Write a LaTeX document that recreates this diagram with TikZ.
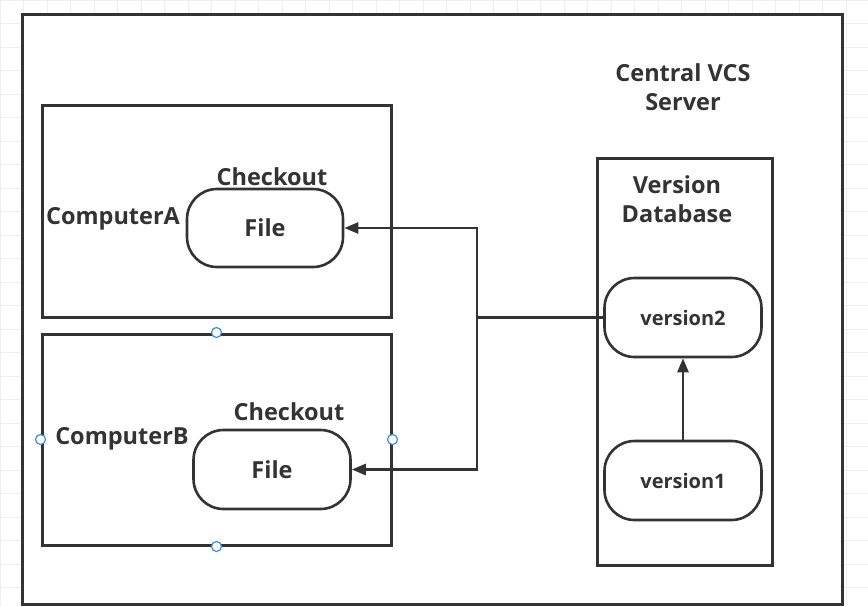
\documentclass[tikz,border=0pt]{standalone}
\usepackage{fontspec}
\setmainfont{Open Sans}
\usetikzlibrary{arrows.meta}
\definecolor{ink}{HTML}{333333}
\definecolor{gridline}{HTML}{EFEFEF}
\definecolor{handle}{HTML}{3A8EE6}
\begin{document}
\begin{tikzpicture}[
  x=1pt, y=-1pt,
  every node/.style={text=ink, font=\bfseries\fontsize{23.5}{28.5}\selectfont},
  box/.style={draw=ink, line width=3pt, inner sep=0pt, fill=white},
  pill/.style={draw=ink, line width=2.6pt, rounded corners=30pt, inner sep=0pt,
    minimum width=157pt, minimum height=79pt},
  link/.style={draw=ink, line width=2.6pt},
  tip/.style={-{Triangle[length=14pt,width=11pt]}},
  small/.style={font=\bfseries\fontsize{20}{24}\selectfont},
  grip/.style={circle, draw=handle, fill=white, line width=1.2pt,
    inner sep=0pt, minimum size=10pt}
]
\useasboundingbox (0,0) rectangle (868,606);
\draw[gridline, step=23.5pt] (0,0) grid (868,606);
% frames
\node[box, minimum width=820pt, minimum height=590pt] (server) at (432,309) {};
\node[box, minimum width=349pt, minimum height=212pt] (compA) at (216.5,211) {};
\node[box, minimum width=349pt, minimum height=211pt] (compB) at (216.5,439.5) {};
\node[box, minimum width=175pt, minimum height=407pt] (db) at (684.5,361.5) {};
% labels
\node[align=center] (serverlbl) at (683,87) {Central VCS\\Server};
\node[align=center] (dblbl) at (677,199) {Version\\Database};
\node (compAlbl) at (113,219) {ComputerA};
\node (compBlbl) at (122,439) {ComputerB};
\node (coA) at (272,177) {Checkout};
\node (coB) at (289,412) {Checkout};
% files and versions
\node[pill, minimum width=156pt, minimum height=78pt] (fileA) at (265,228) {File};
\node[pill] (fileB) at (272,469.5) {File};
\node[pill, small] (ver2) at (683,317.5) {version2};
\node[pill, small] (ver1) at (683,480.5) {version1};
% connectors
\coordinate (hub) at (477,317.5);
\draw[link, tip] (ver1.north) -- (ver2.south);
\draw[link, tip] (ver2.west) -- (hub) |- (fileA.east);
\draw[link, tip] (hub) |- (fileB.east);
% selection handles
\foreach \side in {north,south,west,east}
  \node[grip] (grip-\side) at (compB.\side) {};
\end{tikzpicture}
\end{document}
